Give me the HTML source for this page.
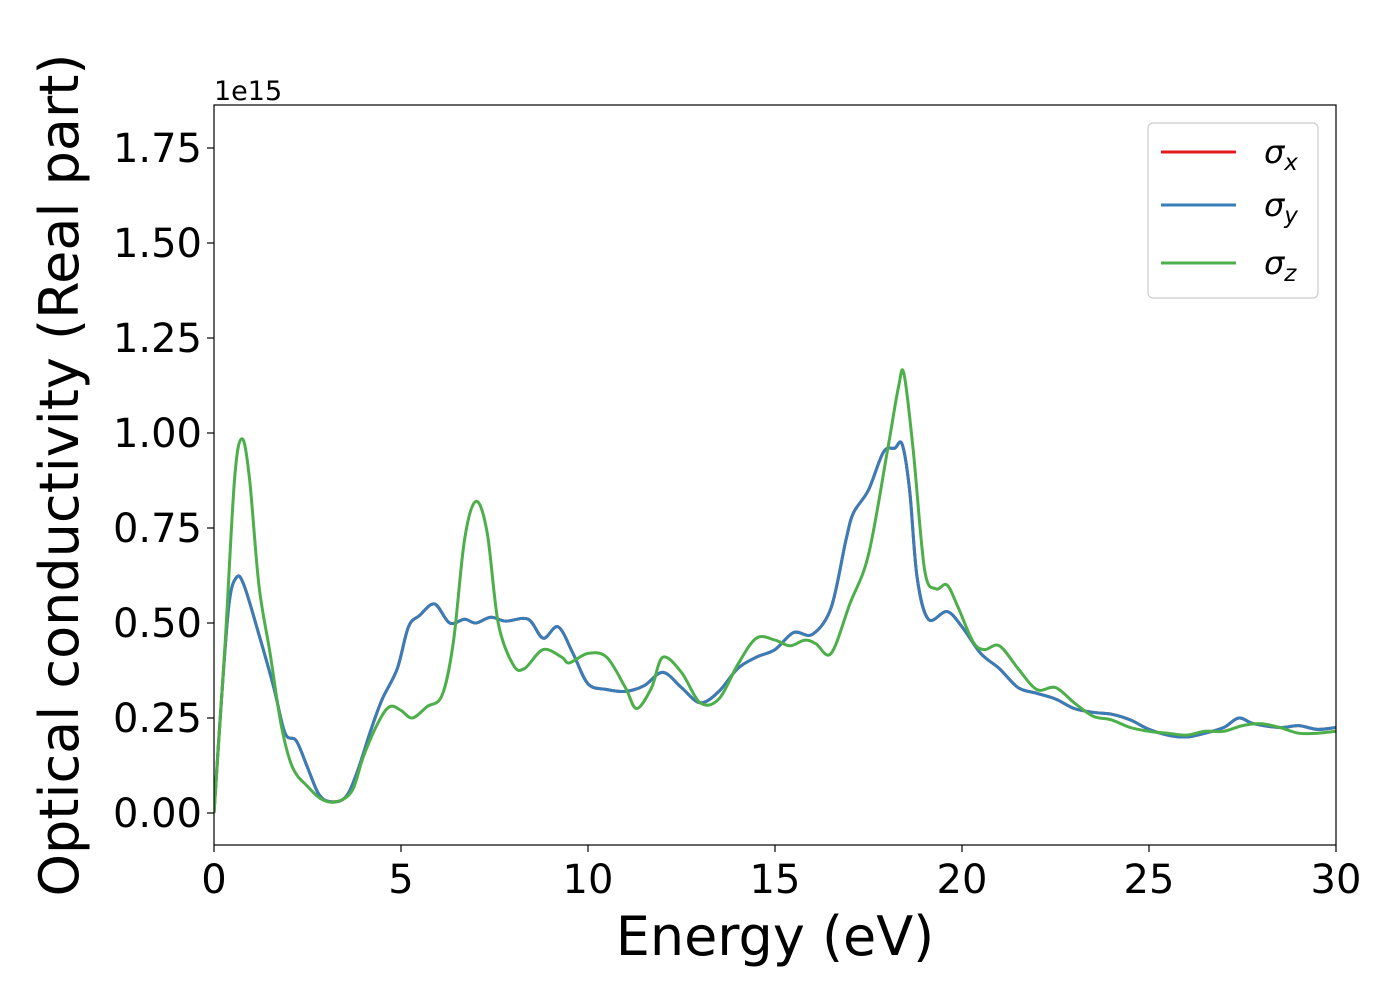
<!DOCTYPE html>
<html><head><meta charset="utf-8"><style>
body{margin:0;background:#fff}
svg{display:block;font-family:"DejaVu Sans","Liberation Sans",sans-serif}
</style></head><body>
<svg id="chart" width="1400" height="1000" xmlns="http://www.w3.org/2000/svg">
<rect width="1400" height="1000" fill="#fff"/>
<g id="plot"></g>
<rect x="214" y="105" width="1122" height="740" fill="none" stroke="#000" stroke-width="1.2"/>
<g id="ticks"></g>
<text x="214" y="100" font-size="27">1e15</text>
<text x="775" y="955" font-size="54" text-anchor="middle">Energy (eV)</text>
<text transform="translate(78,475) rotate(-90)" font-size="54" text-anchor="middle">Optical conductivity (Real part)</text>
<g>
<rect x="1148" y="123" width="170" height="175" rx="5" fill="#fff" fill-opacity="0.8" stroke="#ccc" stroke-width="1.2"/>
<line x1="1161" y1="152" x2="1236" y2="152" stroke="#e41a1c" stroke-width="3"/>
<text x="1264" y="163" font-size="32" font-style="italic">σ<tspan font-size="23" dy="7">x</tspan></text>
<line x1="1161" y1="205" x2="1236" y2="205" stroke="#377eb8" stroke-width="3"/>
<text x="1264" y="216" font-size="32" font-style="italic">σ<tspan font-size="23" dy="7">y</tspan></text>
<line x1="1161" y1="263" x2="1236" y2="263" stroke="#4daf4a" stroke-width="3"/>
<text x="1264" y="274" font-size="32" font-style="italic">σ<tspan font-size="23" dy="7">z</tspan></text>
</g>
</svg>
<script>
const xTicks=[0,5,10,15,20,25,30];
const yTicks=[0,0.25,0.5,0.75,1.0,1.25,1.5,1.75];
const yTickLabels=["0.00","0.25","0.50","0.75","1.00","1.25","1.50","1.75"];
const energyXY=[0,0.2,0.4,0.6,0.8,1.2,1.6,1.9,2.2,2.5,2.8,3.1,3.5,3.8,4.2,4.5,4.9,5.2,5.5,5.9,6.3,6.7,7.0,7.4,7.8,8.4,8.8,9.2,9.6,10.0,10.5,11.0,11.5,12.0,12.5,13.0,13.5,14.0,14.5,15.0,15.5,16.0,16.5,16.9,17.1,17.5,17.9,18.2,18.4,18.6,18.8,19.1,19.6,20.0,20.5,21.0,21.5,22.0,22.5,23.0,23.5,24.0,24.5,25.0,25.5,26.0,26.5,27.0,27.4,27.8,28.5,29.0,29.5,30];
const sigmaY=[0,0.3,0.55,0.62,0.60,0.47,0.33,0.21,0.19,0.12,0.05,0.03,0.04,0.10,0.22,0.30,0.38,0.49,0.52,0.55,0.50,0.51,0.50,0.515,0.505,0.51,0.46,0.49,0.42,0.34,0.325,0.32,0.335,0.37,0.33,0.29,0.32,0.38,0.41,0.43,0.475,0.47,0.54,0.72,0.79,0.85,0.95,0.96,0.97,0.85,0.62,0.51,0.53,0.49,0.42,0.38,0.33,0.315,0.30,0.275,0.265,0.26,0.245,0.22,0.205,0.20,0.21,0.225,0.25,0.235,0.225,0.23,0.22,0.225];
const sigmaX=sigmaY.slice();
const energyZ=[0,0.3,0.55,0.75,0.95,1.2,1.5,1.8,2.1,2.5,2.9,3.3,3.7,4.0,4.4,4.7,5.0,5.3,5.7,6.1,6.4,6.7,7.0,7.3,7.6,8.0,8.3,8.8,9.3,9.5,10.0,10.5,11.0,11.3,11.7,12.0,12.5,13.0,13.5,14.0,14.5,15.0,15.4,15.8,16.1,16.5,17.0,17.5,18.0,18.3,18.45,18.7,19.0,19.3,19.6,19.9,20.3,20.6,21.0,21.5,22.0,22.5,23.0,23.5,24.0,24.5,25.0,25.5,26.0,26.5,27.0,27.5,28.0,28.5,29.0,29.5,30];
const sigmaZ=[0,0.45,0.88,0.985,0.88,0.6,0.42,0.23,0.12,0.07,0.035,0.03,0.06,0.15,0.24,0.28,0.27,0.25,0.28,0.31,0.45,0.72,0.82,0.74,0.50,0.39,0.38,0.43,0.41,0.395,0.42,0.41,0.33,0.275,0.33,0.41,0.37,0.29,0.30,0.39,0.46,0.455,0.44,0.455,0.445,0.42,0.55,0.68,0.95,1.12,1.155,0.95,0.64,0.59,0.60,0.54,0.45,0.43,0.44,0.38,0.325,0.33,0.29,0.255,0.245,0.225,0.215,0.21,0.205,0.215,0.215,0.23,0.235,0.225,0.21,0.21,0.215];

const X0=214,X1=1336,Y0=813,PXPER=380;
const sx=v=>X0+(v-0)/(30-0)*(X1-X0);
const sy=v=>Y0-v*PXPER;
const NS="http://www.w3.org/2000/svg";
function mk(tag,attrs,parent){const e=document.createElementNS(NS,tag);for(const k in attrs)e.setAttribute(k,attrs[k]);parent.appendChild(e);return e;}
function pathFor(xs,ys){
  const p=xs.map((x,i)=>[sx(x),sy(ys[i])]);
  let d="M"+p[0][0].toFixed(1)+","+p[0][1].toFixed(1);
  for(let i=0;i<p.length-1;i++){
    const a=p[Math.max(i-1,0)],b=p[i],c=p[i+1],e=p[Math.min(i+2,p.length-1)];
    const c1=[b[0]+(c[0]-a[0])/6,b[1]+(c[1]-a[1])/6],c2=[c[0]-(e[0]-b[0])/6,c[1]-(e[1]-b[1])/6];
    d+="C"+c1.map(v=>v.toFixed(1))+" "+c2.map(v=>v.toFixed(1))+" "+c.map(v=>v.toFixed(1));
  }
  return d;
}
const plot=document.getElementById('plot');
const clip=mk('clipPath',{id:'pc'},plot);mk('rect',{x:214,y:105,width:1122,height:740},clip);
const g=mk('g',{'clip-path':'url(#pc)'},plot);
const lx=mk('path',{d:pathFor(energyXY,sigmaX),fill:'none',stroke:'#e41a1c','stroke-width':3},g);


const ly=mk('path',{d:pathFor(energyXY,sigmaY),fill:'none',stroke:'#377eb8','stroke-width':3},g);


const lz=mk('path',{d:pathFor(energyZ,sigmaZ),fill:'none',stroke:'#4daf4a','stroke-width':3},g);



const tk=document.getElementById('ticks');
xTicks.forEach(v=>{
  const l=mk('line',{x1:sx(v),x2:sx(v),y1:845,y2:852,stroke:'#000','stroke-width':1.2},tk);
  
  
  const t=mk('text',{x:sx(v),y:893,'font-size':40,'text-anchor':'middle'},tk);t.textContent=v;
  
  
});
yTicks.forEach((v,i)=>{
  const l=mk('line',{x1:207,x2:214,y1:sy(v),y2:sy(v),stroke:'#000','stroke-width':1.2},tk);
  
  
  const t=mk('text',{x:202,y:sy(v)+14,'font-size':40,'text-anchor':'end'},tk);t.textContent=yTickLabels[i];
  
  
});
</script>
</body></html>
